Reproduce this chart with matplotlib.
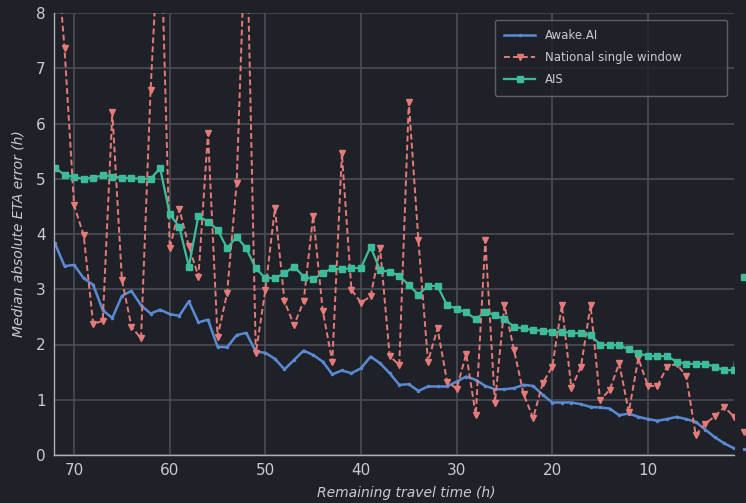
import matplotlib
matplotlib.use("Agg")
import matplotlib.pyplot as plt

hours = list(range(72, -1, -1))

awake_ai = [3.83, 3.42, 3.44, 3.20, 3.08, 2.62, 2.48, 2.88, 2.97, 2.71,
            2.56, 2.63, 2.55, 2.52, 2.78, 2.40, 2.45, 1.96, 1.95, 2.17,
            2.21, 1.87, 1.85, 1.74, 1.55, 1.72, 1.89, 1.81, 1.69, 1.46,
            1.53, 1.48, 1.57, 1.78, 1.66, 1.48, 1.27, 1.28, 1.16, 1.24,
            1.24, 1.24, 1.33, 1.42, 1.36, 1.25, 1.19, 1.19, 1.21, 1.27,
            1.25, 1.09, 0.95, 0.95, 0.95, 0.92, 0.87, 0.86, 0.84, 0.72,
            0.75, 0.69, 0.65, 0.62, 0.65, 0.69, 0.65, 0.60, 0.46, 0.32,
            0.21, 0.12, 0.10]

national_single_window = [9.5, 7.36, 4.52, 3.98, 2.37, 2.43, 6.21, 3.17, 2.32, 2.11,
                          6.61, 10.0, 3.74, 4.45, 3.78, 3.23, 5.83, 2.14, 2.93, 4.93,
                          10.0, 1.84, 2.99, 4.47, 2.78, 2.35, 2.78, 4.33, 2.61, 1.69,
                          5.46, 2.99, 2.76, 2.87, 3.74, 1.79, 1.63, 6.39, 3.89, 1.69,
                          2.29, 1.33, 1.20, 1.83, 0.72, 3.89, 0.94, 2.71, 1.90, 1.10,
                          0.67, 1.30, 1.60, 2.71, 1.21, 1.60, 2.71, 0.99, 1.18, 1.66,
                          0.78, 1.75, 1.25, 1.25, 1.60, 1.65, 1.43, 0.36, 0.57, 0.70,
                          0.87, 0.69, 0.42]

ais = [5.20, 5.07, 5.03, 5.00, 5.02, 5.06, 5.04, 5.02, 5.01, 5.00,
       5.00, 5.19, 4.36, 4.13, 3.41, 4.33, 4.22, 4.08, 3.74, 3.95,
       3.74, 3.38, 3.20, 3.20, 3.29, 3.41, 3.23, 3.18, 3.29, 3.38,
       3.36, 3.38, 3.39, 3.77, 3.34, 3.32, 3.24, 3.08, 2.90, 3.06,
       3.06, 2.71, 2.65, 2.58, 2.46, 2.59, 2.53, 2.46, 2.32, 2.29,
       2.26, 2.25, 2.23, 2.23, 2.21, 2.20, 2.17, 2.00, 1.99, 1.99,
       1.91, 1.84, 1.79, 1.79, 1.79, 1.69, 1.65, 1.65, 1.65, 1.60,
       1.53, 1.54, 3.23]

series_names = ["Awake.AI", "National single window", "AIS"]
x_ticks = [70, 60, 50, 40, 30, 20, 10]
y_ticks = [0, 1, 2, 3, 4, 5, 6, 7, 8]

BG = "#1f2128"
TXT = "#c9cbd0"
GRID = "#4d5058"
C_BLUE = "#5b8ad4"
C_RED = "#e57b78"
C_TEAL = "#3dbc9c"

plt.rcParams["font.family"] = ["DejaVu Sans"]

W, H = 746, 503
fig = plt.figure(figsize=(W / 100, H / 100), dpi=100, facecolor=BG)
ax_l, ax_r, ax_t, ax_b = 54, 734, 13, 455
ax = fig.add_axes([ax_l / W, (H - ax_b) / H, (ax_r - ax_l) / W, (ax_b - ax_t) / H])
ax.set_facecolor(BG)

styles = [
    dict(color=C_BLUE, lw=1.8, marker=".", ms=3, linestyle="-"),
    dict(color=C_RED, lw=1.4, marker="v", ms=5, linestyle=(0, (3, 1.6))),
    dict(color=C_TEAL, lw=1.6, marker="s", ms=4.5, linestyle="-"),
]
data = [awake_ai, national_single_window, ais]

for name, vals, st in zip(series_names, data, styles):
    ax.plot(hours, vals, label=name, **st)
    # last point lies just past the axis edge; draw its marker unclipped
    ax.plot(hours[-1:], vals[-1:], color=st["color"], marker=st["marker"],
            ms=st["ms"], linestyle="none", clip_on=False)

ax.set_xlim(72.1, 1.0)
ax.set_ylim(0, 8)
ax.set_xticks(x_ticks)
ax.set_yticks(y_ticks)
ax.tick_params(axis="both", colors=TXT, labelsize=11, length=0, pad=6)
ax.grid(True, color=GRID, lw=1.1)
ax.set_axisbelow(True)

for side in ["top", "right"]:
    ax.spines[side].set_visible(False)
for side in ["left", "bottom"]:
    ax.spines[side].set_color("#aeb0b6")
    ax.spines[side].set_linewidth(1.0)

ax.set_xlabel("Remaining travel time (h)", color=TXT, fontsize=10, style="italic")
ax.xaxis.set_label_coords((406 - ax_l) / (ax_r - ax_l), -(486 - ax_b) / (ax_b - ax_t))
ax.set_ylabel("Median absolute ETA error (h)", color=TXT, fontsize=10, style="italic")
ax.yaxis.set_label_coords(-(ax_l - 26) / (ax_r - ax_l), 0.5)

# legend box: x 495..727 px, y 20..93 px
lx0 = (495 - ax_l) / (ax_r - ax_l)
lw_ = (727 - 495) / (ax_r - ax_l)
ly1 = (ax_b - 20) / (ax_b - ax_t)
lh = (93 - 20) / (ax_b - ax_t)
leg = ax.legend(loc="upper left", bbox_to_anchor=(lx0, ly1 - lh, lw_, lh),
                mode="expand", fontsize=8.5, frameon=True, facecolor=BG,
                edgecolor="#6c6f78", labelcolor=TXT, handlelength=2.6,
                borderpad=0.8, labelspacing=0.75, borderaxespad=0.0)
leg.get_frame().set_linewidth(1.0)

fig.savefig("out.png", dpi=100, facecolor=BG)
